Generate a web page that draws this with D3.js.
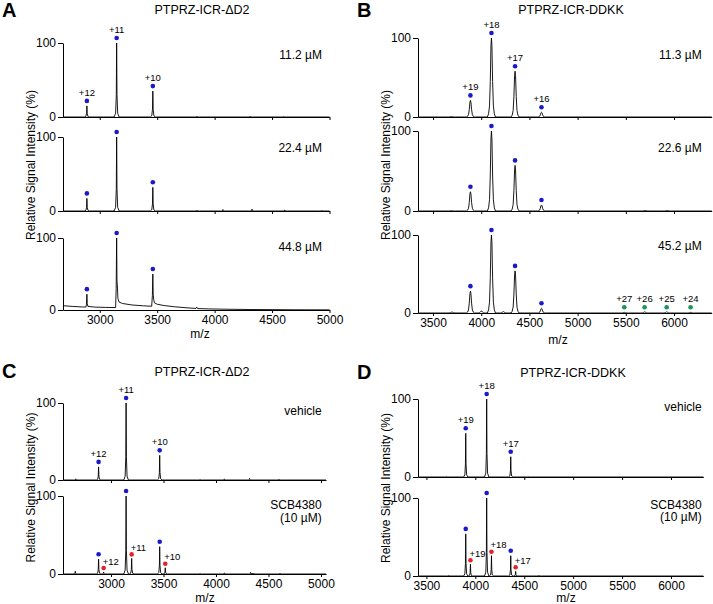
<!DOCTYPE html>
<html>
<head>
<meta charset="utf-8">
<script src="https://cdn.jsdelivr.net/npm/d3@7"></script>
<style>
    body { margin: 0; background: #fff; }
    svg { display: block; }
</style>
</head>
<body>
<svg id="chart" width="713" height="604"></svg>
<script>
"use strict";

const FONT = '"Liberation Sans", Arial, Helvetica, sans-serif';

// m/z tick values
const ticksAC = [3000, 3500, 4000, 4500, 5000];
const ticksBD = [3500, 4000, 4500, 5000, 5500, 6000];

// Peak shapes: [m/z offset, fraction of peak height]
const spikeProfile = [[-22, 0], [-9, 0.05], [-3, 0.3], [0, 1], [3, 0.3], [9, 0.05], [22, 0]];
const broadProfile = [[-42, 0], [-30, 0.04], [-20, 0.14], [-12, 0.45], [-5, 0.9], [0, 1],
                      [5, 0.9], [12, 0.45], [20, 0.14], [30, 0.04], [42, 0]];

// Panel A: PTPRZ-ICR-ΔD2 at three concentrations, peaks as [m/z, relative intensity %]
const peaksA1 = [[2888, 15], [3147, 100], [3462, 35], [3845, 1], [4310, 1], [4600, 0.8]];
const peaksA2 = [[2888, 17], [3147, 100], [3462, 32], [3845, 1], [4072, 2], [4325, 2.5], [4610, 1.5], [4935, 0.7]];
// 44.8 uM spectrum has a drifting baseline, so it is kept as a full trace
const traceA3 = [
    [2680, 6], [2760, 5], [2850, 4.2], [2880, 4.2], [2884, 8], [2888, 22], [2891, 9], [2897, 5],
    [2960, 4], [3050, 3.6], [3138, 3.4], [3143, 30], [3147, 100], [3150, 40], [3153, 35], [3158, 16],
    [3168, 11], [3200, 9], [3280, 7], [3380, 5.8], [3452, 5.2], [3458, 20], [3462, 50], [3465, 22],
    [3469, 15], [3476, 10], [3500, 8], [3560, 6.2], [3650, 4.5], [3760, 3], [3838, 2.2], [3845, 4],
    [3852, 2], [3950, 1.5], [4100, 1.1], [4300, 0.7], [4500, 0.5], [4700, 0.3], [5000, 0.2]
];
// markers: [m/z, intensity, colour, charge label]
const markA1 = [[2888, 15, 'b', '+12'], [3147, 100, 'b', '+11'], [3462, 35, 'b', '+10']];
const markA2 = [[2888, 17, 'b'], [3147, 100, 'b'], [3462, 32, 'b']];
const markA3 = [[2888, 22, 'b'], [3147, 100, 'b'], [3462, 50, 'b']];

// Panel B: PTPRZ-ICR-DDKK at three concentrations
const peaksB1 = [[3690, 0.7], [3888, 21], [4106, 100], [4351, 58], [4625, 6]];
const peaksB2 = [[3690, 0.5], [3888, 24], [4106, 100], [4351, 57], [4625, 7.5], [5700, 0.7], [5930, 0.7]];
const peaksB3 = [[3697, 1.2], [3888, 28], [4002, 2.5], [4106, 100], [4230, 1.8], [4351, 54], [4625, 6],
                 [5484, 0.8], [5695, 1.5], [5924, 1.5], [6172, 0.8]];
const markB1 = [[3888, 21, 'b', '+19'], [4106, 100, 'b', '+18'], [4351, 58, 'b', '+17'], [4625, 6, 'b', '+16']];
const markB2 = [[3888, 24, 'b'], [4106, 100, 'b'], [4351, 57, 'b'], [4625, 7.5, 'b']];
const markB3 = [[3888, 28, 'b'], [4106, 100, 'b'], [4351, 54, 'b'], [4625, 6, 'b'],
                [5484, 1, 'g', '+27'], [5695, 1, 'g', '+26'], [5924, 1, 'g', '+25'], [6172, 1, 'g', '+24']];

// Panel C: PTPRZ-ICR-ΔD2, vehicle vs SCB4380
const peaksC1 = [[2665, 1.5], [2882, 17], [3144, 100], [3464, 32], [3850, 0.7], [4080, 1.5], [4320, 2], [4600, 1]];
const peaksC2 = [[2660, 3.5], [2882, 19], [2930, 2.5], [3144, 100], [3197, 20], [3464, 35], [3517, 8],
                 [3850, 0.7], [4080, 1.5], [4330, 2], [4360, 1], [4610, 1]];
const markC1 = [[2882, 17, 'b', '+12'], [3144, 100, 'b', '+11'], [3464, 32, 'b', '+10']];
const markC2 = [[2882, 19, 'b'], [3144, 100, 'b'], [3464, 35, 'b'],
                [2930, 2.5, 'r', '+12'], [3197, 20, 'r', '+11'], [3517, 8, 'r', '+10']];

// Panel D: PTPRZ-ICR-DDKK, vehicle vs SCB4380
const peaksD1 = [[3704, 0.6], [3902, 56], [4116, 100], [4362, 26], [4540, 0.5]];
const peaksD2 = [[3728, 0.8], [3902, 54], [3950, 15], [4116, 100], [4165, 26], [4362, 26], [4412, 6], [4650, 0.8]];
const markD1 = [[3902, 56, 'b', '+19'], [4116, 100, 'b', '+18'], [4362, 26, 'b', '+17']];
const markD2 = [[3902, 54, 'b'], [4116, 100, 'b'], [4362, 26, 'b'],
                [3950, 15, 'r', '+19'], [4165, 26, 'r', '+18'], [4412, 6, 'r', '+17']];

const markerColors = { b: '#1a1acc', r: '#e3222b', g: '#17955b' };

// Turn a peak list into a polyline through the peak profile
function buildTrace(peaks, profile, domain) {
    const pts = [[domain[0], 0]];
    peaks.slice().sort((a, b) => a[0] - b[0]).forEach(([mz, h]) => {
        profile.forEach(([dx, f]) => pts.push([mz + dx, h * f]));
    });
    pts.push([domain[1], 0]);
    return pts;
}

const domA = [2680, 5000];
const domB = [3344, 6391];
const domC = [2543, 5048];
const domD = [3414, 6330];

const panels = [
    {
        letter: 'A', letterPos: [2, 17], title: 'PTPRZ-ICR-ΔD2', titlePos: [202, 14],
        domain: domA, xRange: [63, 329.5], ticks: ticksAC, condX: 322,
        mzPos: [200, 338], yLabelPos: [35, 165],
        rows: [
            { y: [117, 43], trace: buildTrace(peaksA1, spikeProfile, domA), marks: markA1, cond: ['11.2 µM'], condY: 59 },
            { y: [211, 137], trace: buildTrace(peaksA2, spikeProfile, domA), marks: markA2, cond: ['22.4 µM'], condY: 152 },
            { y: [310, 238], trace: traceA3, marks: markA3, cond: ['44.8 µM'], condY: 251 }
        ]
    },
    {
        letter: 'B', letterPos: [357, 17], title: 'PTPRZ-ICR-DDKK', titlePos: [571, 14],
        domain: domB, xRange: [418, 711.7], ticks: ticksBD, condX: 701.7,
        mzPos: [558, 344], yLabelPos: [390, 165],
        rows: [
            { y: [117, 38], trace: buildTrace(peaksB1, broadProfile, domB), marks: markB1, cond: ['11.3 µM'], condY: 59 },
            { y: [211, 131], trace: buildTrace(peaksB2, broadProfile, domB), marks: markB2, cond: ['22.6 µM'], condY: 152 },
            { y: [313, 235], trace: buildTrace(peaksB3, broadProfile, domB), marks: markB3, cond: ['45.2 µM'], condY: 250 }
        ]
    },
    {
        letter: 'C', letterPos: [2, 378], title: 'PTPRZ-ICR-ΔD2', titlePos: [202, 376],
        domain: domC, xRange: [63, 326], ticks: ticksAC, condX: 321.7,
        mzPos: [205, 602], yLabelPos: [35, 487.5],
        rows: [
            { y: [480, 403], trace: buildTrace(peaksC1, spikeProfile, domC), marks: markC1, cond: ['vehicle'], condY: 415 },
            { y: [574, 496], trace: buildTrace(peaksC2, spikeProfile, domC), marks: markC2, cond: ['SCB4380', '(10 µM)'], condY: 509 }
        ]
    },
    {
        letter: 'D', letterPos: [357, 379], title: 'PTPRZ-ICR-DDKK', titlePos: [573, 377],
        domain: domD, xRange: [418, 703.3], ticks: ticksBD, condX: 701.7,
        mzPos: [566, 602], yLabelPos: [390, 488],
        rows: [
            { y: [477, 399], trace: buildTrace(peaksD1, spikeProfile, domD), marks: markD1, cond: ['vehicle'], condY: 411 },
            { y: [576, 498], trace: buildTrace(peaksD2, spikeProfile, domD), marks: markD2, cond: ['SCB4380', '(10 µM)'], condY: 508.5 }
        ]
    }
];

const svg = d3.select('#chart').attr('font-family', FONT);

function drawPanel(p) {
    const g = svg.append('g');
    const x = d3.scaleLinear().domain(p.domain).range(p.xRange);

    // panel letter and title
    g.append('text')
        .attr('x', p.letterPos[0]).attr('y', p.letterPos[1])
        .attr('font-size', 20).attr('font-weight', 'bold')
        .text(p.letter);
    g.append('text')
        .attr('x', p.titlePos[0]).attr('y', p.titlePos[1])
        .attr('text-anchor', 'middle').attr('font-size', 12.5)
        .text(p.title);

    p.rows.forEach((row, i) => {
        const y = d3.scaleLinear().domain([0, 100]).range(row.y);
        const isLast = i === p.rows.length - 1;

        const xAxis = d3.axisBottom(x)
            .tickValues(p.ticks)
            .tickSize(3)
            .tickSizeOuter(0)
            .tickPadding(2)
            .tickFormat(isLast ? d3.format('d') : '');
        g.append('g')
            .attr('transform', 'translate(0,' + y(0) + ')')
            .call(xAxis)
            .attr('font-family', FONT)
            .attr('font-size', 12);

        const yAxis = d3.axisLeft(y)
            .tickValues([0, 100])
            .tickSize(5)
            .tickSizeOuter(0)
            .tickPadding(2);
        g.append('g')
            .attr('transform', 'translate(' + p.xRange[0] + ',0)')
            .call(yAxis)
            .attr('font-family', FONT)
            .attr('font-size', 12);

        // spectrum
        const line = d3.line()
            .x(d => x(d[0]))
            .y(d => y(d[1]));
        g.append('path')
            .datum(row.trace)
            .attr('fill', 'none')
            .attr('stroke', '#000')
            .attr('stroke-width', 0.9)
            .attr('stroke-linejoin', 'round')
            .attr('d', line);

        // peak markers
        row.marks.forEach(m => {
            const cx = x(m[0]);
            const cy = y(m[1]) - (m[2] === 'r' ? 4 : 5);
            g.append('circle')
                .attr('cx', cx).attr('cy', cy).attr('r', 2.3)
                .attr('fill', markerColors[m[2]]);
            if (m[3]) {
                const t = g.append('text')
                    .attr('font-size', 9.5)
                    .text(m[3]);
                if (m[2] === 'r') {
                    t.attr('x', cx - 1).attr('y', cy - 3.5);
                } else {
                    t.attr('x', cx).attr('y', cy - 5).attr('text-anchor', 'middle');
                }
            }
        });

        // condition label
        row.cond.forEach((s, k) => {
            g.append('text')
                .attr('x', p.condX)
                .attr('y', row.condY + k * 12.5)
                .attr('text-anchor', 'end')
                .attr('font-size', 12)
                .text(s);
        });
    });

    g.append('text')
        .attr('x', p.mzPos[0]).attr('y', p.mzPos[1])
        .attr('text-anchor', 'middle').attr('font-size', 12)
        .text('m/z');

    g.append('text')
        .attr('transform', 'translate(' + p.yLabelPos[0] + ',' + p.yLabelPos[1] + ') rotate(-90)')
        .attr('text-anchor', 'middle').attr('font-size', 12)
        .text('Relative Signal Intensity (%)');
}

panels.forEach(drawPanel);
</script>
</body>
</html>
